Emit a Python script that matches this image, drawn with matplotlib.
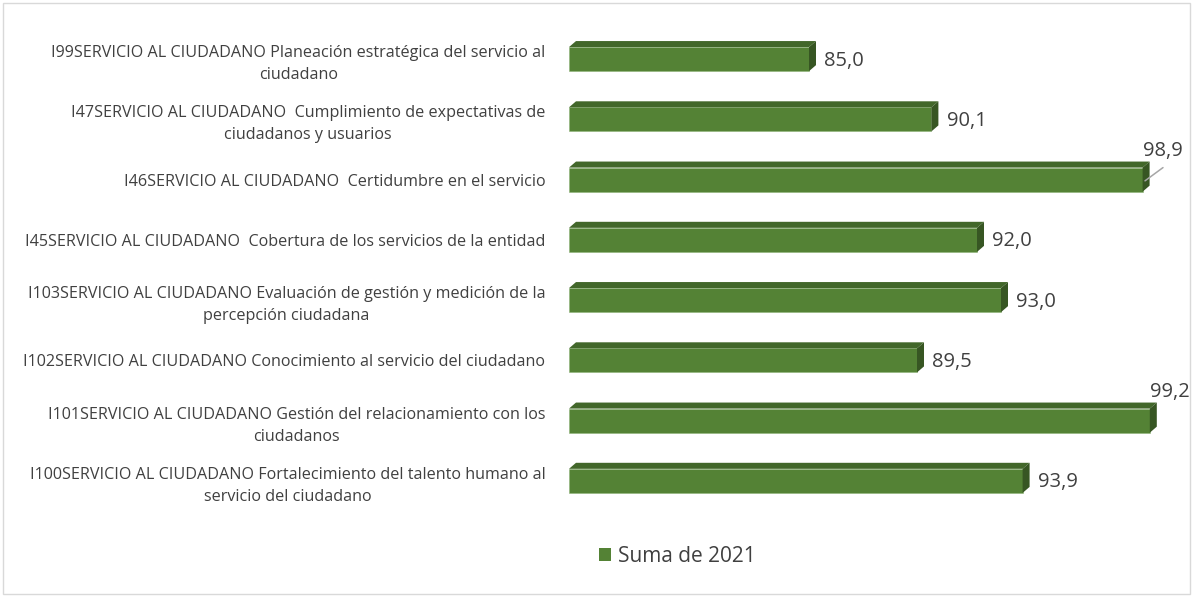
import matplotlib
matplotlib.use("Agg")
import matplotlib.pyplot as plt
from matplotlib.patches import Polygon, Rectangle, Patch
import numpy as np

categories = [
    "I99SERVICIO AL CIUDADANO Planeación estratégica del servicio al\nciudadano",
    "I47SERVICIO AL CIUDADANO  Cumplimiento de expectativas de\nciudadanos y usuarios",
    "I46SERVICIO AL CIUDADANO  Certidumbre en el servicio",
    "I45SERVICIO AL CIUDADANO  Cobertura de los servicios de la entidad",
    "I103SERVICIO AL CIUDADANO Evaluación de gestión y medición de la\npercepción ciudadana",
    "I102SERVICIO AL CIUDADANO Conocimiento al servicio del ciudadano",
    "I101SERVICIO AL CIUDADANO Gestión del relacionamiento con los\nciudadanos",
    "I100SERVICIO AL CIUDADANO Fortalecimiento del talento humano al\nservicio del ciudadano",
]
values = [85.0, 90.1, 98.9, 92.0, 93.0, 89.5, 99.2, 93.9]
series_name = "Suma de 2021"

FRONT = "#548235"
TOP = "#42672a"
SIDE = "#375623"
TEXT = "#404040"
FONT = "Open Sans"

W, H = 1193, 597
fig = plt.figure(figsize=(W / 100, H / 100), dpi=100)
ax = fig.add_axes([569 / W, 1 - 511 / H, 600 / W, 482 / H])

xmin, xmax = 75, 100
ax.set_xlim(xmin, xmax)
y = np.arange(len(values))
ax.set_ylim(len(values) - 0.5, -0.5)

bh = 0.4
dx = 7 / 24.0
dy = 0.1

ax.barh(y, [v - xmin for v in values], left=xmin, height=bh, color=FRONT,
        edgecolor="#8fb47a", linewidth=0.4, zorder=3)
for i, (yi, v) in enumerate(zip(y, values)):
    yt = yi - bh / 2
    yb = yi + bh / 2
    top = Polygon([(xmin, yt), (xmin + dx, yt - dy), (v + dx, yt - dy), (v, yt)],
                  closed=True, facecolor=TOP, edgecolor="none", zorder=3)
    side = Polygon([(v, yt), (v + dx, yt - dy), (v + dx, yb - dy), (v, yb)],
                   closed=True, facecolor=SIDE, edgecolor="none", zorder=3)
    ax.add_patch(top)
    ax.add_patch(side)
    lab = f"{v:.1f}".replace(".", ",")
    if v + dx > xmax - 1.5:
        # label lifted above the bar end
        ax.text(v, yi - 0.48, lab, fontsize=14.5, color=TEXT, family=FONT,
                ha="left", va="center", zorder=5, clip_on=False)
        if v < xmax - 1.0:
            ax.annotate("", xy=(v + 0.1, yi + 0.02), xytext=(v + 0.85, yi - 0.2),
                        arrowprops=dict(arrowstyle="-", color="#a6a6a6", lw=1.1,
                                        shrinkA=0, shrinkB=0),
                        annotation_clip=False, zorder=6)
    else:
        ax.annotate(lab, xy=(v + dx, yi), xytext=(6, -1), textcoords="offset points",
                    fontsize=14.5, color=TEXT, family=FONT, ha="left", va="center",
                    zorder=5)

ax.set_yticks(y)
ax.set_yticklabels(categories, fontsize=11.6, color=TEXT, family=FONT,
                   multialignment="center", linespacing=1.5)
ax.tick_params(axis="y", length=0, pad=17)
ax.set_xticks([])
for s in ax.spines.values():
    s.set_visible(False)
ax.patch.set_alpha(0)

fig.legend(handles=[Patch(facecolor=FRONT, edgecolor="none", label=series_name)],
           loc="center left", bbox_to_anchor=(580 / W, 1 - 556 / H),
           frameon=False, handlelength=0.6, handleheight=0.6,
           handletextpad=0.3, prop={"family": FONT, "size": 15},
           labelcolor=TEXT)

fig.patches.append(Rectangle((3 / W, 3 / H), 1 - 6 / W, 1 - 6 / H,
                             transform=fig.transFigure, fill=False,
                             edgecolor="#d9d9d9", linewidth=1.0))

fig.savefig("out.png", dpi=100)
